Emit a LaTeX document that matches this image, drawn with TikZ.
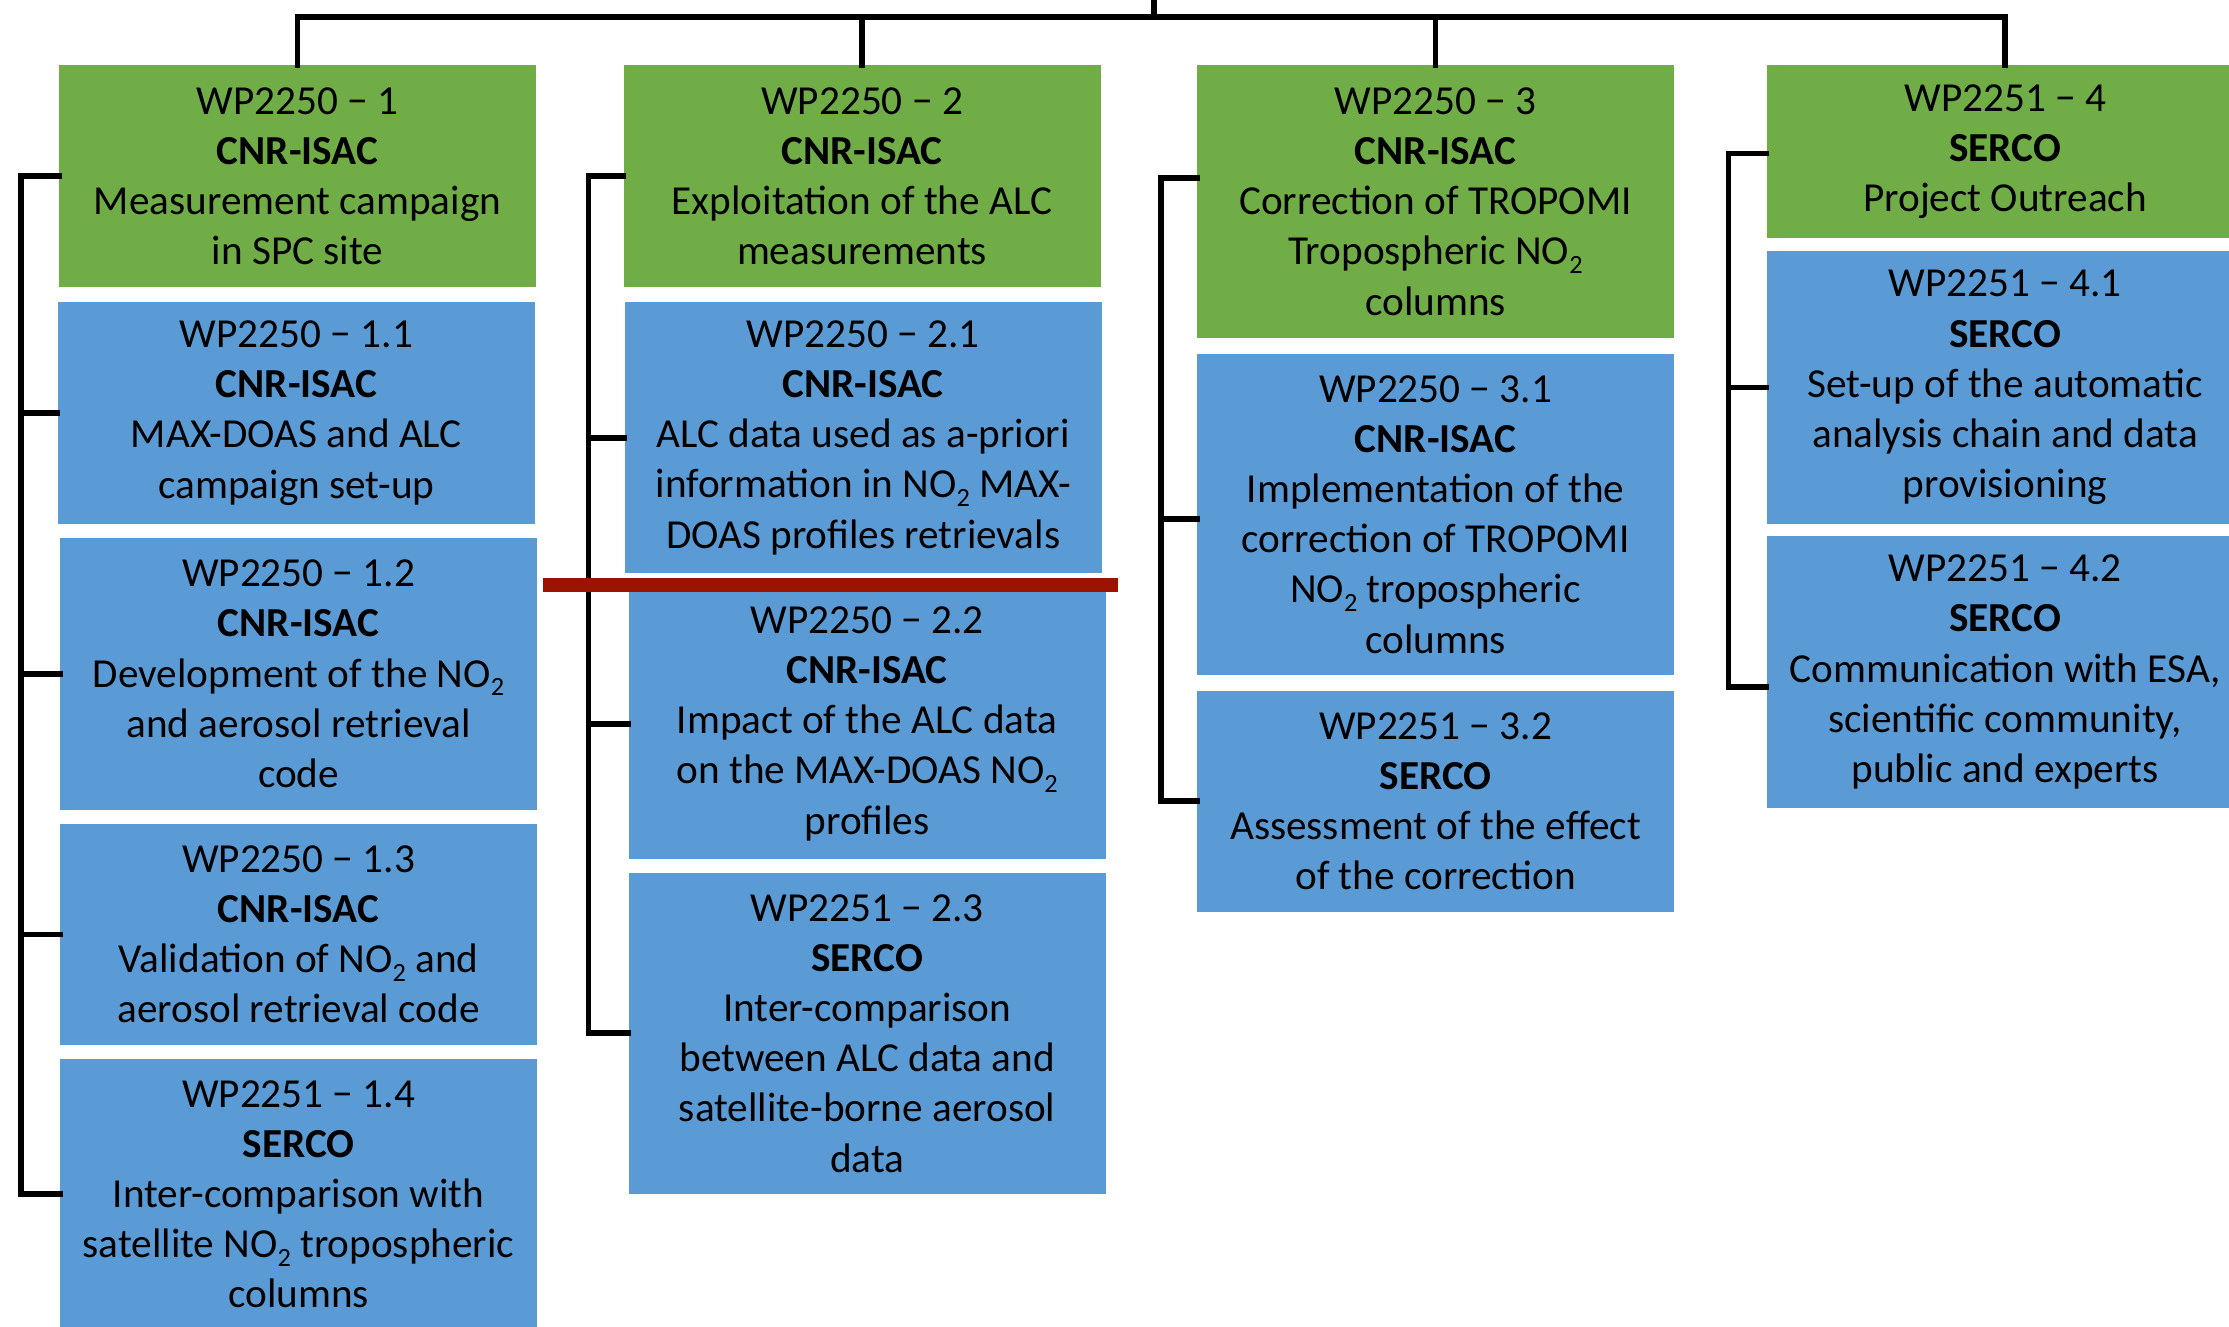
\documentclass[tikz,border=0pt]{standalone}
\usepackage{fontspec}
\usepackage{graphicx}
\setmainfont{Carlito}
\definecolor{wpgreen}{HTML}{70AD47}
\definecolor{wpblue}{HTML}{5B9BD5}
\definecolor{wpred}{HTML}{9A1400}
\newcommand{\subtwo}{\raisebox{-6pt}{\fontsize{18.5}{18.5}\selectfont 2}}
\newcommand{\NOt}{NO\subtwo}
\begin{document}
\begin{tikzpicture}[x=1pt,y=-1pt,
  wpbox/.style={rectangle, inner sep=0pt, align=center, minimum width=335.5pt,
    font=\fontsize{29}{35.3}\selectfont},
  greenbox/.style={wpbox, fill=wpgreen},
  bluebox/.style={wpbox, fill=wpblue},
  conn/.style={draw=black, line width=4pt, line join=miter, line cap=rect},
  redbar/.style={draw=wpred, line width=10.5pt}]
\useasboundingbox (0,0) rectangle (1568,933);
\clip (0,0) rectangle (1568,933);

% ---- green top-level boxes
\node[greenbox, minimum height=156pt] (g1) at (209.3,123.9)
  {WP2250 − 1\\\textbf{CNR-ISAC}\\Measurement campaign\\in SPC site};
\node[greenbox, minimum height=156pt] (g2) at (606.4,123.9)
  {WP2250 − 2\\\textbf{CNR-ISAC}\\Exploitation of the ALC\\measurements};
\node[greenbox, minimum height=191.9pt] (g3) at (1009.8,141.8)
  {WP2250 − 3\\\textbf{CNR-ISAC}\\Correction of TROPOMI\\Tropospheric \NOt\\columns};
\node[greenbox, minimum height=121.6pt] (g4) at (1410.5,106.6)
  {WP2251 − 4\\\textbf{SERCO}\\Project Outreach};

% ---- column 1
\node[bluebox, minimum height=155.6pt] (b11) at (208.5,290.5)
  {WP2250 − 1.1\\\textbf{CNR-ISAC}\\MAX-DOAS and ALC\\campaign set-up};
\node[bluebox, minimum height=191.7pt] (b12) at (210.0,474.0)
  {WP2250 − 1.2\\\textbf{CNR-ISAC}\\Development of the \NOt\\and aerosol retrieval\\code};
\node[bluebox, minimum height=155.6pt] (b13) at (210.0,657.3)
  {WP2250 − 1.3\\\textbf{CNR-ISAC}\\Validation of \NOt{} and\\aerosol retrieval code};
\node[bluebox, minimum height=190pt] (b14) at (210.0,840.1)
  {WP2251 − 1.4\\\textbf{SERCO}\\Inter-comparison with\\satellite \NOt{} tropospheric\\columns};

% ---- column 2
\node[bluebox, minimum height=190.3pt] (b21) at (607.2,307.9)
  {WP2250 − 2.1\\\textbf{CNR-ISAC}\\ALC data used as a-priori\\information in \NOt{} MAX-\\DOAS profiles retrievals};
\node[bluebox, minimum height=190.2pt] (b22) at (610.0,509.1)
  {WP2250 − 2.2\\\textbf{CNR-ISAC}\\Impact of the ALC data\\on the MAX-DOAS \NOt\\profiles};
\node[bluebox, minimum height=226.2pt] (b23) at (610.0,726.9)
  {WP2251 − 2.3\\\textbf{SERCO}\\Inter-comparison\\between ALC data and\\satellite-borne aerosol\\data};

% ---- column 3
\node[bluebox, minimum height=225.7pt] (b31) at (1009.8,361.9)
  {WP2250 − 3.1\\\textbf{CNR-ISAC}\\Implementation of the\\correction of TROPOMI\\\NOt{} tropospheric\\columns};
\node[bluebox, minimum height=155.3pt] (b32) at (1009.8,563.7)
  {WP2251 − 3.2\\\textbf{SERCO}\\Assessment of the effect\\of the correction};

% ---- column 4
\node[bluebox, minimum height=191.4pt] (b41) at (1410.5,272.6)
  {WP2251 − 4.1\\\textbf{SERCO}\\Set-up of the automatic\\analysis chain and data\\provisioning};
\node[bluebox, minimum height=191.6pt] (b42) at (1410.5,472.7)
  {WP2251 − 4.2\\\textbf{SERCO}\\Communication with ESA,\\scientific community,\\public and experts};

% ---- top bus
\coordinate (topend) at (811.8,0);
\coordinate (bus) at (811.8,12);
\draw[conn] (topend) -- (bus);
\draw[conn] (g1.north) |- (g4.north |- bus) -- (g4.north);
\draw[conn] (g2.north) -- (g2.north |- bus);
\draw[conn] (g3.north) -- (g3.north |- bus);

% ---- rails
\coordinate (rail1) at (15,0);
\coordinate (rail2) at (414,0);
\coordinate (rail3) at (816.8,0);
\coordinate (rail4) at (1216,0);
\coordinate (g3tick) at ([yshift=16.8pt]g3.west);
\coordinate (b31tick) at ([yshift=-3pt]b31.west);
\coordinate (g4tick) at ([yshift=-1.4pt]g4.west);
\coordinate (b42tick) at ([yshift=-10.6pt]b42.west);

\draw[conn] (g1.west) -| (rail1 |- b14.west) -- (b14.west);
\draw[conn] (b11.west) -- (b11.west -| rail1);
\draw[conn] (b12.west) -- (b12.west -| rail1);
\draw[conn] (b13.west) -- (b13.west -| rail1);

\draw[conn] (g2.west) -| (rail2 |- b23.west) -- (b23.west);
\draw[conn] (b21.west) -- (b21.west -| rail2);
\draw[conn] (b22.west) -- (b22.west -| rail2);

\draw[conn] (g3tick) -| (rail3 |- b32.west) -- (b32.west);
\draw[conn] (b31tick) -- (b31tick -| rail3);

\draw[conn] (g4tick) -| (rail4 |- b42tick) -- (b42tick);
\draw[conn] (b41.west) -- (b41.west -| rail4);

% ---- red divider
\coordinate (ra) at (382,411.5);
\coordinate (rb) at (786.4,411.5);
\draw[redbar] (ra) -- (rb);
\end{tikzpicture}
\end{document}
